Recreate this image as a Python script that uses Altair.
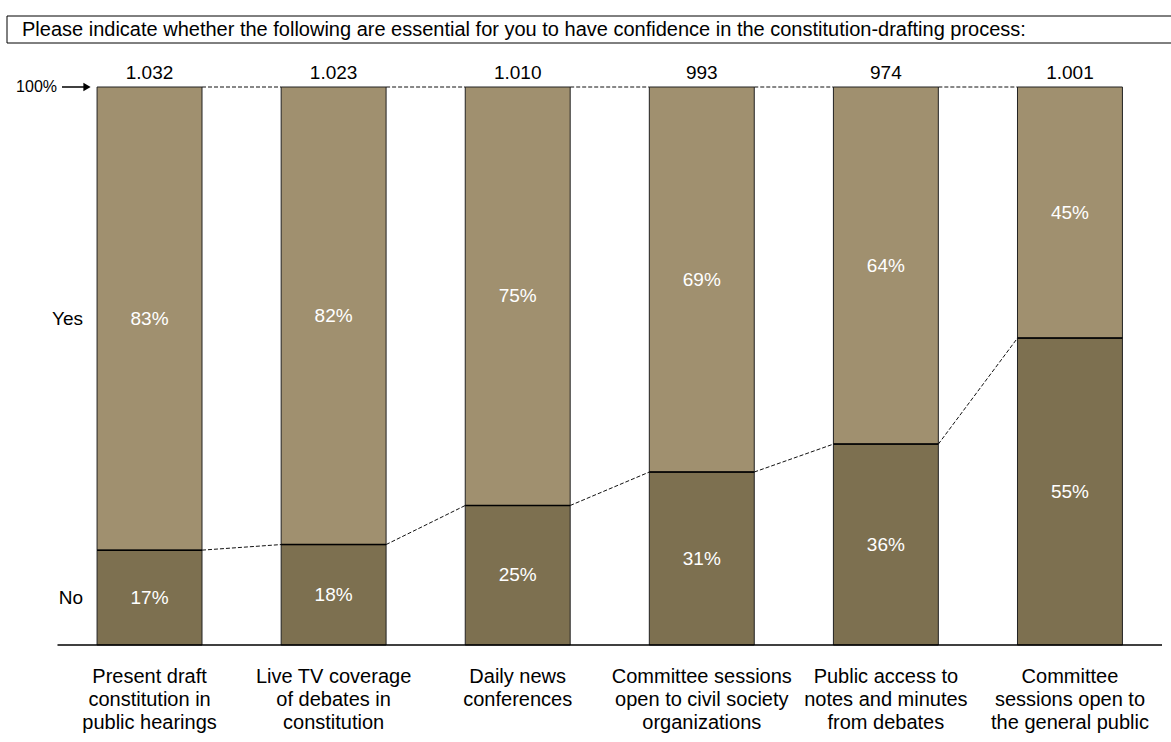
import altair as alt
import pandas as pd

# Survey items (multi-line axis captions), shares in percent and respondent counts
categories = [
    "Present draft\nconstitution in\npublic hearings",
    "Live TV coverage\nof debates in\nconstitution",
    "Daily news\nconferences",
    "Committee sessions\nopen to civil society\norganizations",
    "Public access to\nnotes and minutes\nfrom debates",
    "Committee\nsessions open to\nthe general public",
]
no_share = [17, 18, 25, 31, 36, 55]
yes_share = [83, 82, 75, 69, 64, 45]
respondents = ["1.032", "1.023", "1.010", "993", "974", "1.001"]

question = ("Please indicate whether the following are essential for you to have "
            "confidence in the constitution-drafting process:")

YES_COLOR = "#A0906F"
NO_COLOR = "#7D7050"
FONT = "Liberation Sans"
HALF = 0.285  # half bar width in category units

xs = alt.Scale(domain=[-0.5, 5.5], range=[57.5, 1162])
ys = alt.Scale(domain=[0, 100], range=[645, 87])

# Stacked segments
seg_rows = []
for i, (n, y) in enumerate(zip(no_share, yes_share)):
    seg_rows.append(dict(idx=i, x0=i - HALF, x1=i + HALF, lo=0, hi=n, mid=n / 2,
                         answer="No", label=f"{n}%"))
    seg_rows.append(dict(idx=i, x0=i - HALF, x1=i + HALF, lo=n, hi=n + y,
                         mid=n + y / 2, answer="Yes", label=f"{y}%"))
seg = pd.DataFrame(seg_rows)

bars = alt.Chart(seg).mark_rect(stroke="#222222", strokeWidth=1).encode(
    x=alt.X("x0:Q", scale=xs, axis=None),
    x2="x1:Q",
    y=alt.Y("lo:Q", scale=ys, axis=None),
    y2="hi:Q",
    color=alt.Color("answer:N", scale=alt.Scale(domain=["No", "Yes"],
                                                range=[NO_COLOR, YES_COLOR]),
                    legend=None),
)

seg_text = alt.Chart(seg).mark_text(color="white", fontSize=19, font=FONT,
                                    baseline="middle").encode(
    x=alt.X("idx:Q", scale=xs, axis=None),
    y=alt.Y("mid:Q", scale=ys, axis=None),
    text="label:N",
)

# Per-bar table: boundary, totals, captions
bars_df = pd.DataFrame({
    "idx": list(range(len(categories))),
    "x0": [i - HALF for i in range(len(categories))],
    "x1": [i + HALF for i in range(len(categories))],
    "no": no_share,
    "total": respondents,
    "cat": categories,
    "top": [n + y for n, y in zip(no_share, yes_share)],
    "zero": [0] * len(categories),
})

split = alt.Chart(bars_df).mark_rule(color="black", strokeWidth=1.5).encode(
    x=alt.X("x0:Q", scale=xs, axis=None),
    x2="x1:Q",
    y=alt.Y("no:Q", scale=ys, axis=None),
)

# Dashed connectors between neighbouring bars
conn_rows = []
for i in range(len(categories) - 1):
    conn_rows.append(dict(a=i + HALF, b=i + 1 - HALF, y1=no_share[i], y2=no_share[i + 1]))
    conn_rows.append(dict(a=i + HALF, b=i + 1 - HALF, y1=100, y2=100))
conn = pd.DataFrame(conn_rows)

connectors = alt.Chart(conn).mark_rule(color="#111111", strokeWidth=1,
                                       strokeDash=[4, 2]).encode(
    x=alt.X("a:Q", scale=xs, axis=None),
    x2="b:Q",
    y=alt.Y("y1:Q", scale=ys, axis=None),
    y2="y2:Q",
)

totals = alt.Chart(bars_df).mark_text(fontSize=19, font=FONT, color="black",
                                      baseline="alphabetic", dy=-8).encode(
    x=alt.X("idx:Q", scale=xs, axis=None),
    y=alt.Y("top:Q", scale=ys, axis=None),
    text="total:N",
)

cat_text = alt.Chart(bars_df).mark_text(fontSize=20, font=FONT, color="black",
                                        baseline="top", lineBreak="\n",
                                        lineHeight=23, dy=22).encode(
    x=alt.X("idx:Q", scale=xs, axis=None),
    y=alt.Y("zero:Q", scale=ys, axis=None),
    text="cat:N",
)

base_df = pd.DataFrame({"a": [-0.5], "b": [5.5], "y": [0]})
baseline = alt.Chart(base_df).mark_rule(color="black", strokeWidth=1.5).encode(
    x=alt.X("a:Q", scale=xs, axis=None),
    x2="b:Q",
    y=alt.Y("y:Q", scale=ys, axis=None),
)

# Row captions aligned with the first bar's segments
side = pd.DataFrame({
    "txt": ["Yes", "No"],
    "y": [no_share[0] + yes_share[0] / 2, no_share[0] / 2],
})
side_text = alt.Chart(side).mark_text(fontSize=19, font=FONT, color="black",
                                      align="right", baseline="middle").encode(
    x=alt.value(83),
    y=alt.Y("y:Q", scale=ys, axis=None),
    text="txt:N",
)

one = pd.DataFrame({"v": [100], "lbl": ["100%"], "q": [question]})
pct_text = alt.Chart(one).mark_text(fontSize=16, font=FONT, color="black",
                                    align="right", baseline="middle").encode(
    x=alt.value(57),
    y=alt.Y("v:Q", scale=ys, axis=None),
    text="lbl:N",
)
arrow_line = alt.Chart(one).mark_rule(color="black", strokeWidth=1.5).encode(
    x=alt.value(62), x2=alt.value(84),
    y=alt.Y("v:Q", scale=ys, axis=None),
)
arrow_head = alt.Chart(one).mark_point(shape="triangle-right", filled=True,
                                       color="black", size=70, opacity=1).encode(
    x=alt.value(87),
    y=alt.Y("v:Q", scale=ys, axis=None),
)

# Question box
box = alt.Chart(one).mark_rect(fill="white", stroke="black", strokeWidth=1).encode(
    x=alt.value(7), x2=alt.value(1200), y=alt.value(16), y2=alt.value(43),
    tooltip="q:N",
)
box_text = alt.Chart(one).mark_text(fontSize=20, font=FONT, color="black",
                                    align="left", baseline="middle").encode(
    x=alt.value(22), y=alt.value(30), text="q:N",
)

chart = alt.layer(
    box, box_text, bars, split, connectors, baseline, seg_text, totals, cat_text,
    side_text, pct_text, arrow_line, arrow_head,
).properties(
    width=1171, height=742, padding=0,
    autosize=alt.AutoSizeParams(type="none"),
).configure_view(strokeWidth=0)

chart.save("out.html", embed_options={"renderer": "svg", "actions": False})
